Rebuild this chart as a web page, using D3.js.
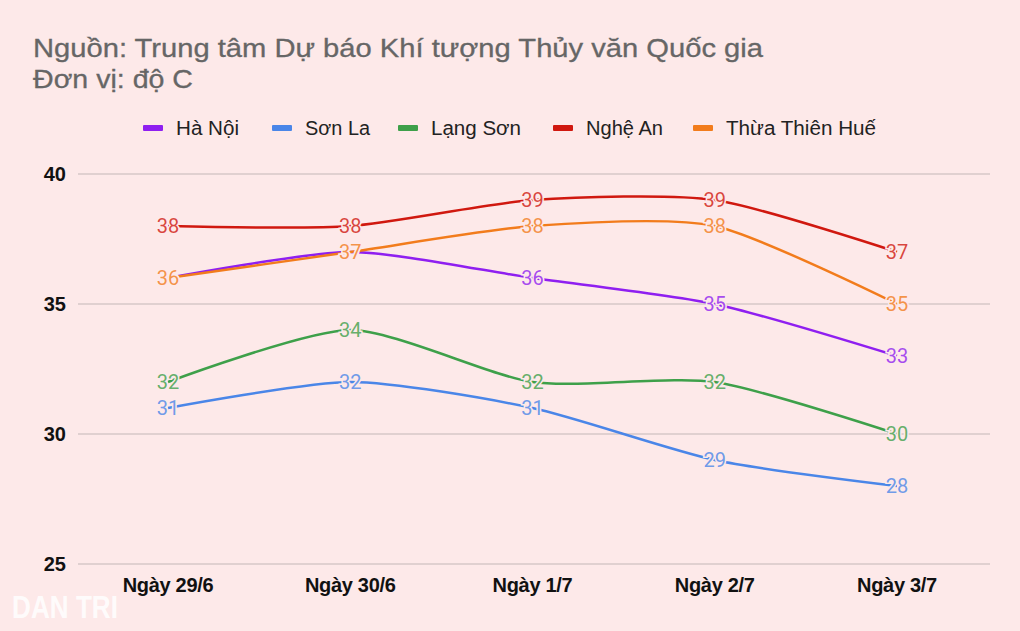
<!DOCTYPE html>
<html>
<head>
<meta charset="utf-8">
<script src="https://cdn.jsdelivr.net/npm/d3@7"></script>
<style>
  body { margin: 0; background: #fde9e9; }
  svg { display: block; }
</style>
</head>
<body>
<div id="chart"></div>
<script>
// chart values
var days = ["Ngày 29/6", "Ngày 30/6", "Ngày 1/7", "Ngày 2/7", "Ngày 3/7"];
var haNoi = [36, 37, 36, 35, 33];
var sonLa = [31, 32, 31, 29, 28];
var langSon = [32, 34, 32, 32, 30];
var ngheAn = [38, 38, 39, 39, 37];
var hue = [36, 37, 38, 38, 35];
var yTicks = [25, 30, 35, 40];

var series = [
  {name: "Hà Nội", values: haNoi, color: "#8f1ff0"},
  {name: "Sơn La", values: sonLa, color: "#4a86e8"},
  {name: "Lạng Sơn", values: langSon, color: "#3ea04a"},
  {name: "Nghệ An", values: ngheAn, color: "#d0180f"},
  {name: "Thừa Thiên Huế", values: hue, color: "#f27c1c"}
];

var W = 1020, H = 631;
var bg = "#fde9e9";

var svg = d3.select("#chart").append("svg")
    .attr("width", W)
    .attr("height", H);

svg.append("rect").attr("width", W).attr("height", H).attr("fill", bg);

// title (glyphs look tall and narrow in the original)
svg.append("text")
    .attr("x", 33).attr("y", 57)
    .attr("font-family", "Liberation Sans, Arial, sans-serif")
    .attr("font-size", 26)
    .attr("fill", "#666")
    .attr("stroke", "#666")
    .attr("stroke-width", 0.3)
    .attr("textLength", 730)
    .attr("lengthAdjust", "spacingAndGlyphs")
    .text("Nguồn: Trung tâm Dự báo Khí tượng Thủy văn Quốc gia");
svg.append("text")
    .attr("x", 33).attr("y", 88)
    .attr("font-family", "Liberation Sans, Arial, sans-serif")
    .attr("font-size", 26)
    .attr("fill", "#666")
    .attr("stroke", "#666")
    .attr("stroke-width", 0.3)
    .attr("textLength", 160)
    .attr("lengthAdjust", "spacingAndGlyphs")
    .text("Đơn vị: độ C");

// scales
var x = d3.scalePoint()
    .domain(days)
    .range([168, 897]);

var y = d3.scaleLinear()
    .domain([25, 40])
    .range([564, 174]);

// grid
svg.append("g")
  .selectAll("line")
  .data(yTicks)
  .enter()
  .append("line")
    .attr("x1", 78).attr("x2", 990)
    .attr("y1", function(d) { return y(d); })
    .attr("y2", function(d) { return y(d); })
    .attr("stroke", "#c4b8b8")
    .attr("stroke-width", 1.2);

// y axis labels
svg.append("g")
  .selectAll("text")
  .data(yTicks)
  .enter()
  .append("text")
    .attr("x", 66)
    .attr("y", function(d) { return y(d); })
    .attr("dy", "0.36em")
    .attr("text-anchor", "end")
    .attr("font-family", "Liberation Sans, Arial, sans-serif")
    .attr("font-weight", "bold")
    .attr("font-size", 20)
    .attr("fill", "#111")
    .text(function(d) { return d; });

// x axis labels
svg.append("g")
  .selectAll("text")
  .data(days)
  .enter()
  .append("text")
    .attr("x", function(d) { return x(d); })
    .attr("y", 592)
    .attr("text-anchor", "middle")
    .attr("font-family", "Liberation Sans, Arial, sans-serif")
    .attr("font-weight", "bold")
    .attr("font-size", 20)
    .attr("letter-spacing", "-0.3")
    .attr("fill", "#111")
    .text(function(d) { return d; });

// legend
var legendX = [143, 272, 398, 553, 693];
var legendW = [63, 65, 90, 77, 150];
var legend = svg.append("g")
  .selectAll("g")
  .data(series)
  .enter()
  .append("g")
    .attr("transform", function(d, i) { return "translate(" + legendX[i] + ",128)"; });
legend.append("rect")
    .attr("x", 0).attr("y", -3)
    .attr("width", 20).attr("height", 6)
    .attr("rx", 1)
    .attr("fill", function(d) { return d.color; });
legend.append("text")
    .attr("x", 33).attr("y", 0)
    .attr("dy", "0.36em")
    .attr("font-family", "Liberation Sans, Arial, sans-serif")
    .attr("font-size", 20)
    .attr("fill", "#222")
    .attr("textLength", function(d, i) { return legendW[i]; })
    .attr("lengthAdjust", "spacingAndGlyphs")
    .text(function(d) { return d.name; });

// lines
var line = d3.line()
    .x(function(d, i) { return x(days[i]); })
    .y(function(d) { return y(d); })
    .curve(d3.curveCardinal.tension(0.3));

svg.append("g")
  .selectAll("path")
  .data(series)
  .enter()
  .append("path")
    .attr("d", function(d) { return line(d.values); })
    .attr("fill", "none")
    .attr("stroke", function(d) { return d.color; })
    .attr("stroke-width", 2.5);

// point labels
series.forEach(function(s) {
  var g = svg.append("g");
  g.selectAll("text")
    .data(s.values)
    .enter()
    .append("text")
      .attr("x", function(d, i) { return x(days[i]); })
      .attr("y", function(d) { return y(d); })
      .attr("dy", "0.36em")
      .attr("text-anchor", "middle")
      .attr("font-family", "Roboto, sans-serif")
      .attr("font-size", 20)
      .attr("fill", s.color)
      .attr("fill-opacity", 0.8)
      .attr("stroke", bg)
      .attr("stroke-width", 3)
      .attr("paint-order", "stroke")
      .text(function(d) { return d; });
});

// watermark, kept clear of the first day label
svg.append("text")
    .attr("x", 12).attr("y", 618)
    .attr("font-family", "Liberation Sans, Arial, sans-serif")
    .attr("font-weight", "bold")
    .attr("font-size", 32)
    .attr("fill", "#ffffff")
    .attr("fill-opacity", 0.85)
    .attr("textLength", 106)
    .attr("lengthAdjust", "spacingAndGlyphs")
    .text("DAN TRI");
</script>
</body>
</html>
